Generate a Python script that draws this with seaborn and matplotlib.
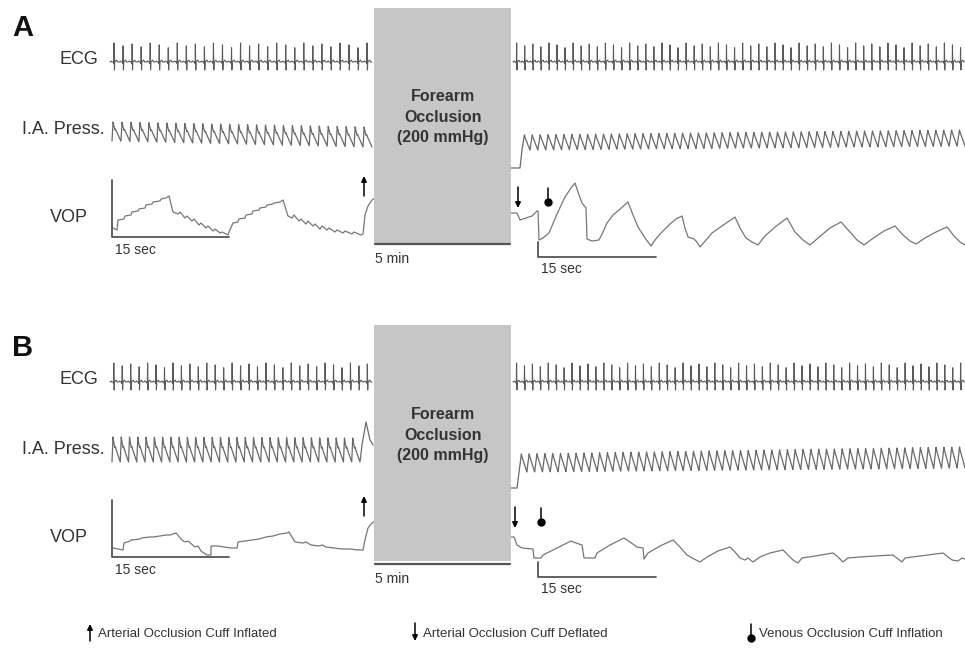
import numpy as np
import pandas as pd
import seaborn as sns
import matplotlib.pyplot as plt

sns.set_theme(style='white')
plt.rcParams['font.family'] = ['Liberation Sans', 'DejaVu Sans']

# ---- waveform shapes ----
# one ECG beat: phase inside the beat, level (R wave = 1, up is positive)
ecg_phase = [0.0, 0.15, 0.25, 0.38, 0.42, 0.45, 0.49, 0.53, 0.72, 0.85, 1.0]
ecg_level = [0.0, 0.05, 0.0, 0.0, -0.08, 1.0, -0.42, 0.0, 0.1, 0.0, 0.0]
ecg_spike = [1.0, 0.85, 0.95, 0.8, 1.0, 0.9, 0.75]

# arterial pulse: 0 = diastolic trough, 1 = systolic peak
ia_phase_pre = [0.0, 0.12, 0.22, 0.34, 0.40, 0.55, 0.80, 1.0]
ia_level_pre = [0.0, 1.0, 0.78, 0.58, 0.62, 0.45, 0.2, 0.0]
ia_phase_post = [0.0, 0.30, 0.38, 1.0]
ia_level_post = [0.0, 1.0, 0.85, 0.0]

# beats per segment (before / after occlusion)
beats_a = [29, 56]
beats_b = [31, 57]

# I.A. pressure (peak start, peak end, trough start, trough end)
ia_a_pre = [122, 127, 141, 147]
ia_a_post = [135, 130, 150, 146]
ia_b_pre = [437, 438, 462, 462]
ia_b_post = [454, 447, 472, 468]
ia_a_step = [(511, 168), (520, 168), (522, 150)]
ia_b_step = [(511, 488), (517, 488), (519, 472)]
ia_b_tail = [(362, 445), (366, 422), (370, 440), (373, 445)]

# venous occlusion plethysmography traces
vop_a_pre = [(113, 228), (117, 230), (118, 220), (124, 219), (125, 216), (131, 215), (132, 212),
             (138, 211), (139, 209), (145, 208), (146, 205), (152, 204), (153, 202), (160, 201),
             (161, 199), (166, 198), (169, 196), (173, 212), (178, 214), (180, 212), (185, 218),
             (187, 216), (192, 221), (194, 219), (199, 225), (201, 223), (206, 228), (208, 226),
             (213, 231), (215, 229), (220, 233), (222, 232), (228, 235), (229, 232), (233, 223),
             (238, 222), (239, 219), (245, 218), (246, 215), (252, 214), (253, 211), (259, 210),
             (260, 208), (266, 207), (267, 205), (273, 204), (274, 203), (280, 202), (283, 200),
             (288, 216), (292, 218), (294, 215), (299, 221), (301, 219), (306, 224), (308, 221),
             (313, 226), (315, 224), (320, 229), (322, 226), (327, 230), (329, 228), (335, 232),
             (337, 230), (343, 233), (345, 231), (352, 234), (354, 232), (361, 235), (363, 234),
             (365, 215), (368, 206), (372, 200), (375, 198)]
vop_a_post = [(511, 213), (517, 213), (520, 220), (526, 218), (532, 216), (537, 211), (538, 211),
              (539, 240), (543, 238), (549, 233), (557, 214), (565, 197), (571, 188), (575, 183),
              (579, 195), (582, 203), (586, 208), (587, 239), (592, 241), (599, 240), (603, 232),
              (607, 223), (613, 215), (619, 210), (628, 202), (633, 215), (638, 227), (645, 238),
              (651, 246), (655, 240), (661, 233), (670, 224), (676, 219), (682, 216), (685, 228),
              (688, 237), (694, 239), (697, 242), (700, 247), (706, 240), (712, 233), (722, 226),
              (735, 217), (740, 228), (746, 238), (752, 242), (758, 245), (765, 236), (775, 227),
              (787, 218), (795, 232), (803, 240), (810, 245), (818, 238), (830, 228), (841, 222),
              (850, 232), (857, 240), (864, 245), (872, 239), (884, 231), (895, 226), (903, 235),
              (910, 241), (916, 244), (925, 238), (936, 232), (947, 227), (954, 236), (960, 242),
              (965, 245)]
vop_b_pre = [(113, 548), (123, 550), (124, 543), (130, 541), (131, 540), (140, 539), (141, 538),
             (150, 537), (153, 537), (160, 536), (166, 535), (170, 535), (176, 533), (182, 540),
             (185, 542), (188, 541), (195, 547), (198, 546), (201, 551), (207, 555), (211, 555),
             (211, 546), (218, 546), (224, 547), (231, 548), (237, 548), (238, 542), (245, 541),
             (252, 540), (259, 539), (266, 537), (273, 536), (280, 534), (287, 533), (289, 532),
             (295, 542), (303, 543), (306, 542), (311, 545), (319, 546), (322, 545), (326, 547),
             (334, 548), (342, 549), (350, 549), (358, 550), (363, 550), (365, 540), (368, 528),
             (371, 524), (374, 522)]
vop_b_post = [(510, 537), (514, 537), (517, 545), (522, 548), (533, 549), (534, 558), (541, 558),
              (543, 555), (557, 548), (571, 541), (576, 543), (582, 545), (584, 558), (595, 558),
              (597, 553), (610, 545), (624, 538), (630, 542), (637, 547), (643, 548), (644, 559),
              (648, 553), (660, 546), (673, 540), (680, 547), (687, 555), (694, 559), (700, 562),
              (707, 557), (718, 551), (730, 547), (735, 552), (740, 558), (745, 560), (748, 558),
              (753, 562), (760, 557), (770, 553), (783, 550), (788, 555), (793, 560), (798, 563),
              (802, 558), (815, 556), (833, 553), (838, 557), (843, 562), (848, 558), (860, 557),
              (875, 556), (893, 555), (898, 559), (902, 562), (905, 558), (920, 556), (943, 553),
              (948, 557), (952, 560), (958, 561), (962, 558), (965, 559)]

legend_items = ['Arterial Occlusion Cuff Inflated', 'Arterial Occlusion Cuff Deflated',
                'Venous Occlusion Cuff Inflation']

TRACE = '#6a6a6a'
DARK = '#333333'


def beats(x0, x1, n, phase, level, scale):
    period = (x1 - x0) / n
    xs, ys = [], []
    for k in range(n):
        for p, v in zip(phase, level):
            xs.append(x0 + (k + p) * period)
            ys.append(scale(k / max(n - 1, 1), k, v))
    return xs, ys


def ecg(x0, x1, n, base, up):
    return beats(x0, x1, n, ecg_phase, ecg_level,
                 lambda f, k, v: base - v * up * (ecg_spike[k % len(ecg_spike)] if v > 0.5 else 1))


def pressure(x0, x1, n, rng, phase, level):
    def sc(f, k, v):
        top = rng[0] + (rng[1] - rng[0]) * f
        bot = rng[2] + (rng[3] - rng[2]) * f
        return bot - v * (bot - top)
    return beats(x0, x1, n, phase, level, sc)


def line(ax, xs, ys, color=TRACE, lw=0.9):
    sns.lineplot(x=xs, y=ys, ax=ax, sort=False, estimator=None, color=color, linewidth=lw)


def arrow(ax, x, y_from, y_to):
    ax.annotate('', xy=(x, y_to), xytext=(x, y_from),
                arrowprops=dict(arrowstyle='-|>', color='black', lw=1.1,
                                mutation_scale=8, shrinkA=0, shrinkB=0))


def ball(ax, x, y_top, y_bot):
    ax.plot([x, x], [y_top, y_bot], color='black', lw=1.1)
    ax.plot([x], [y_bot + 1.5], 'o', color='black', ms=5)


fig = plt.figure(figsize=(9.65, 6.5), dpi=100)
ax = fig.add_axes([0, 0, 1, 1])
ax.set_xlim(0, 965)
ax.set_ylim(650, 0)
ax.axis('off')

panels = [
    dict(tag='A', dy=0, beats=beats_a, ia_pre=ia_a_pre, ia_post=ia_a_post,
         step=ia_a_step, vop_pre=vop_a_pre, vop_post=vop_a_post, tail=None,
         down=518, venous=548, box=(8, 244), text_y=117),
    dict(tag='B', dy=320, beats=beats_b, ia_pre=ia_b_pre, ia_post=ia_b_post,
         step=ia_b_step, vop_pre=vop_b_pre, vop_post=vop_b_post, tail=ia_b_tail,
         down=515, venous=541, box=(325, 561), text_y=435),
]

for pn in panels:
    dy = pn['dy']
    ax.text(12, 28 + dy, pn['tag'], fontsize=21, fontweight='bold', color='#111111', va='center')
    ax.text(98, 60 + dy, 'ECG', fontsize=13, color=DARK, ha='right', va='center')
    ax.text(105, 129 + dy, 'I.A. Press.', fontsize=13, color=DARK, ha='right', va='center')
    ax.text(88, 218 + dy, 'VOP', fontsize=13, color=DARK, ha='right', va='center')

    # occlusion box
    top, bot = pn['box']
    ax.add_patch(plt.Rectangle((374, top), 137, bot - top, facecolor='#c6c6c6', edgecolor='none', zorder=3))
    ax.text(443, pn['text_y'], 'Forearm\nOcclusion\n(200 mmHg)',
            fontsize=11.5, fontweight='bold', color=DARK, ha='center', va='center',
            linespacing=1.45, zorder=4)

    # ECG
    xs, ys = ecg(110, 372, pn['beats'][0], 62 + dy, 19)
    line(ax, xs, ys, color='#5a5a5a', lw=0.8)
    xs, ys = ecg(513, 965, pn['beats'][1], 62 + dy, 19)
    line(ax, xs, ys, color='#5a5a5a', lw=0.8)

    # intra-arterial pressure
    pre_end = 372 if pn['tail'] is None else 360
    xs, ys = pressure(112, pre_end, pn['beats'][0] if pn['tail'] is None else pn['beats'][0] - 1,
                      pn['ia_pre'], ia_phase_pre, ia_level_pre)
    if pn['tail'] is not None:
        xs += [p[0] for p in pn['tail']]
        ys += [p[1] for p in pn['tail']]
    line(ax, xs, ys)
    x0 = pn['step'][-1][0]
    xs, ys = pressure(x0, 965, pn['beats'][1], pn['ia_post'], ia_phase_post, ia_level_post)
    line(ax, [p[0] for p in pn['step']] + xs, [p[1] for p in pn['step']] + ys)

    # VOP
    for tr in (pn['vop_pre'], pn['vop_post']):
        arr = np.array(tr, dtype=float)
        line(ax, arr[:, 0], arr[:, 1], color='#777777')

    # scale bars
    ax.plot([112, 112, 229], [180 + dy, 237 + dy, 237 + dy], color='#555555', lw=1.3)
    ax.text(115, 250 + dy, '15 sec', fontsize=10, color=DARK, va='center')
    ax.plot([375, 510], [244 + dy, 244 + dy], color='#555555', lw=1.6, zorder=5)
    ax.text(375, 259 + dy, '5 min', fontsize=10, color=DARK, va='center')
    ax.plot([538, 538, 656], [242 + dy, 257 + dy, 257 + dy], color='#555555', lw=1.3)
    ax.text(541, 269 + dy, '15 sec', fontsize=10, color=DARK, va='center')

    # cuff markers
    arrow(ax, 364, 196 + dy, 176 + dy)
    arrow(ax, pn['down'], 187 + dy, 208 + dy)
    ball(ax, pn['venous'], 188 + dy, 200 + dy)

# legend
legend_x = [90, 415, 751]
arrow(ax, legend_x[0], 641, 624)
arrow(ax, legend_x[1], 623, 641)
ball(ax, legend_x[2], 624, 636)
for lx, txt in zip(legend_x, legend_items):
    ax.text(lx + 8, 634, txt, fontsize=9.5, color=DARK, va='center')

fig.savefig('out.png', dpi=100)
